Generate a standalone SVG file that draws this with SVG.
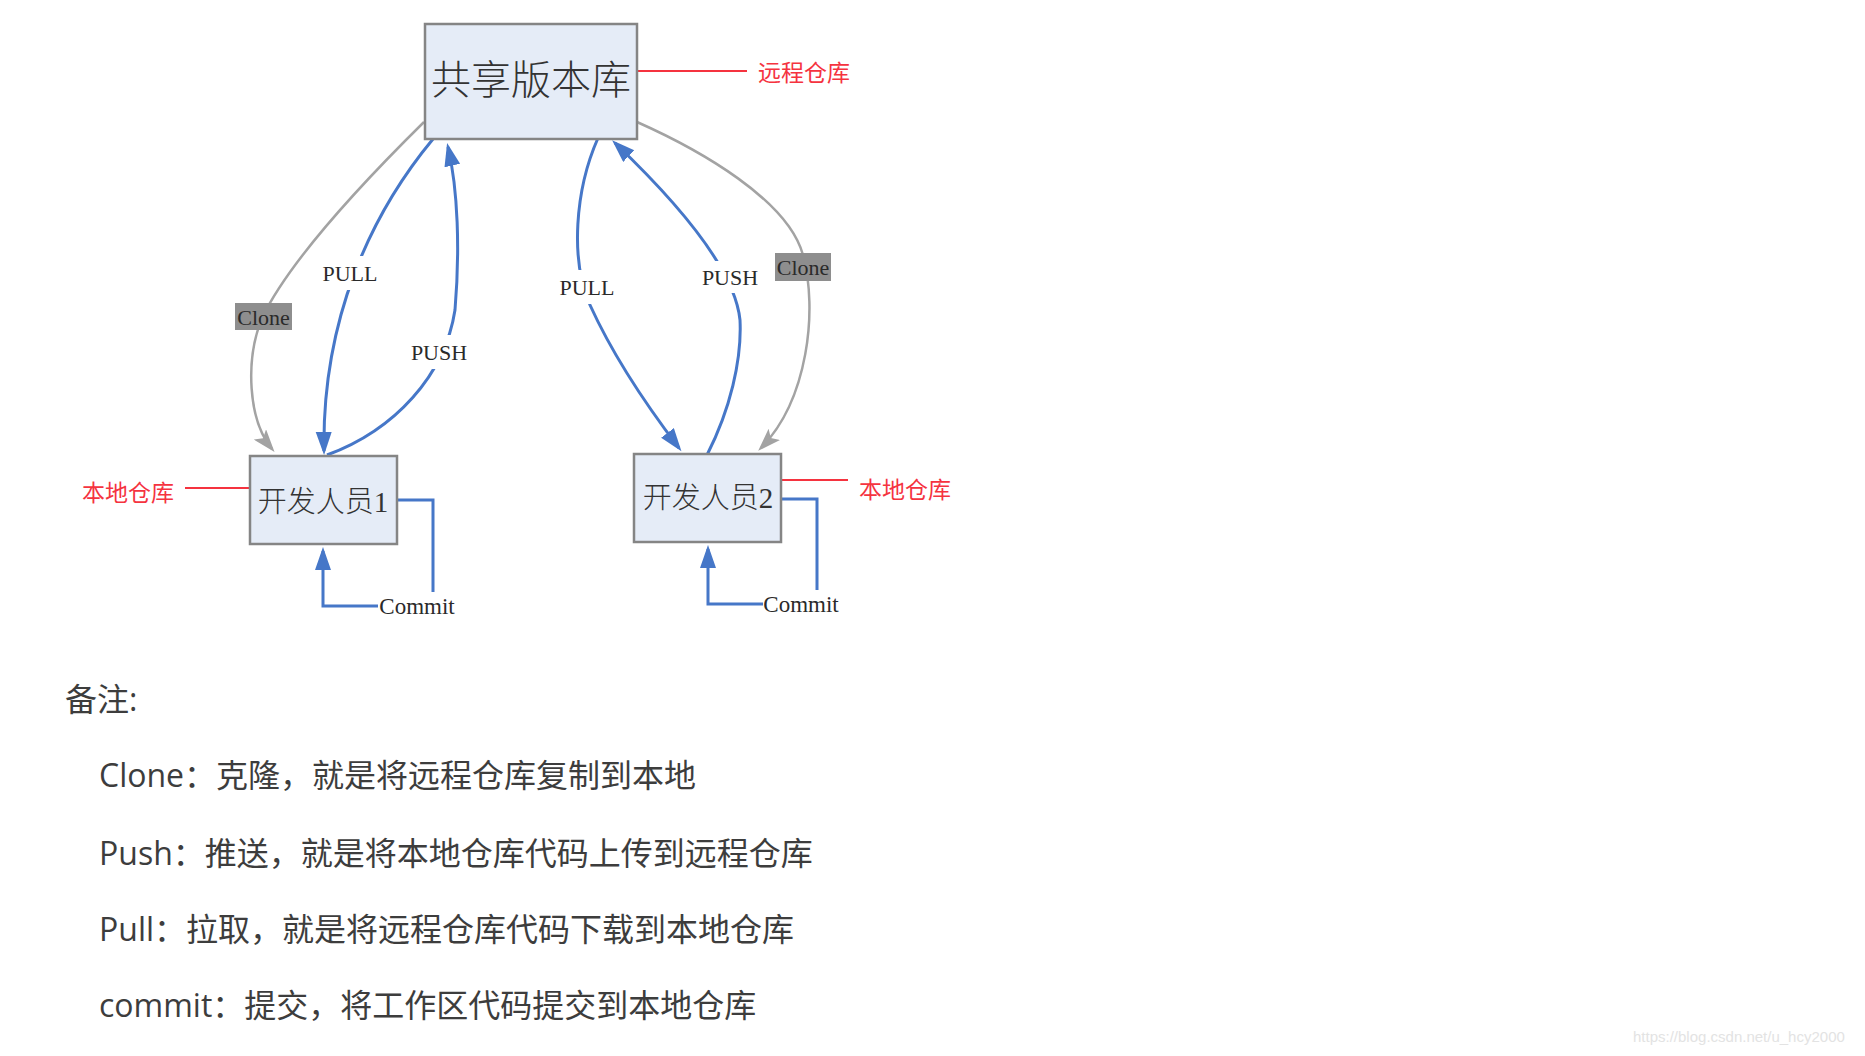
<svg xmlns="http://www.w3.org/2000/svg" width="1865" height="1056" viewBox="0 0 1865 1056">
<style>
.box{fill:#e5ecf7;stroke:#858585;stroke-width:2.5}
.btxt{font-family:"Liberation Serif","Noto Sans CJK SC",serif;font-weight:300;fill:#333333;text-anchor:middle;dominant-baseline:central}
.blue{fill:none;stroke:#4677c8;stroke-width:3}
.gray{fill:none;stroke:#a3a3a3;stroke-width:2.5}
.red{stroke:#f5333f;stroke-width:2}
.rtxt{font-family:"Noto Sans CJK SC",sans-serif;font-size:23px;fill:#f5333f;dominant-baseline:central}
.lbl{font-family:"Liberation Serif",serif;font-size:22px;fill:#2a2a2a;text-anchor:middle;dominant-baseline:central}
.note{font-family:"Open Sans","Noto Sans CJK SC",sans-serif;font-size:32px;fill:#3d3d3d}
</style>
<defs>
<marker id="ab" markerUnits="userSpaceOnUse" markerWidth="26" markerHeight="18" refX="19" refY="8" orient="auto"><path d="M0,0 L23,8 L0,16 z" fill="#4677c8"/></marker>
<marker id="ag" markerUnits="userSpaceOnUse" markerWidth="26" markerHeight="18" refX="19" refY="8" orient="auto"><path d="M0,0 L23,8 L0,16 L5,8 z" fill="#a3a3a3"/></marker>
</defs>
<rect width="1865" height="1056" fill="#ffffff"/>
<g id="connectors">
<path class="gray" d="M424 122 C345 200 285 270 262 318 C245 360 248 420 272 449" marker-end="url(#ag)"/>
<path class="gray" d="M637 122 C700 150 788 200 803 255 C818 310 808 400 761 448" marker-end="url(#ag)"/>
<path class="blue" d="M433 139 C370 215 322 320 324 451" marker-end="url(#ab)"/>
<path class="blue" d="M327 455 C395 430 445 375 455 310 C460 250 458 190 448 147" marker-end="url(#ab)"/>
<path class="blue" d="M598 138 C575 190 570 260 590 305 C615 360 650 410 679 448" marker-end="url(#ab)"/>
<path class="blue" d="M707 455 C730 410 742 360 740 320 C735 270 680 205 615 143" marker-end="url(#ab)"/>
<path class="blue" d="M397 500 H433 V592"/>
<path class="blue" d="M378 606 H323 V551" marker-end="url(#ab)"/>
<path class="blue" d="M781 499 H817 V590"/>
<path class="blue" d="M763 604 H708 V549" marker-end="url(#ab)"/>
<rect x="235" y="303" width="57" height="27" fill="#8e8e8e"/>
<text class="lbl" x="263.5" y="317">Clone</text>
<rect x="775" y="253" width="56" height="28" fill="#8e8e8e"/>
<text class="lbl" x="803" y="267">Clone</text>
<rect x="320" y="256" width="60" height="34" fill="#ffffff"/>
<text class="lbl" x="350" y="273">PULL</text>
<rect x="408" y="335" width="62" height="34" fill="#ffffff"/>
<text class="lbl" x="439" y="352">PUSH</text>
<rect x="556" y="270" width="62" height="34" fill="#ffffff"/>
<text class="lbl" x="587" y="287">PULL</text>
<rect x="699" y="261" width="62" height="32" fill="#ffffff"/>
<text class="lbl" x="730" y="277">PUSH</text>
<text class="lbl" x="417" y="606" style="font-size:23px">Commit</text>
<text class="lbl" x="801" y="604" style="font-size:23px">Commit</text>
<line class="red" x1="637" y1="71" x2="747" y2="71"/>
<line class="red" x1="185" y1="488" x2="252" y2="488"/>
<line class="red" x1="781" y1="480" x2="848" y2="480"/>
</g>
<g id="remote">
<rect class="box" x="425" y="24" width="212" height="115"/>
<text class="btxt" x="531" y="80" style="font-size:40px">共享版本库</text>
<text class="rtxt" x="758" y="71">远程仓库</text>
</g>
<g id="dev1">
<rect class="box" x="250" y="456" width="147" height="88"/>
<text class="btxt" x="323" y="502" style="font-size:29px">开发人员1</text>
<text class="rtxt" x="82" y="491">本地仓库</text>
</g>
<g id="dev2">
<rect class="box" x="634" y="454" width="147" height="88"/>
<text class="btxt" x="708" y="498" style="font-size:29px">开发人员2</text>
<text class="rtxt" x="859" y="488">本地仓库</text>
</g>
<g id="notes">
<text class="note" x="65" y="711">备注:</text>
<text class="note" x="99" y="787">Clone：克隆，就是将远程仓库复制到本地</text>
<text class="note" x="99" y="865">Push：推送，就是将本地仓库代码上传到远程仓库</text>
<text class="note" x="99" y="941">Pull：拉取，就是将远程仓库代码下载到本地仓库</text>
<text class="note" x="99" y="1017">commit：提交，将工作区代码提交到本地仓库</text>
</g>
<text x="1633" y="1042" font-family="Liberation Sans, sans-serif" font-size="15" fill="#e3e3e3">https://blog.csdn.net/u_hcy2000</text>
</svg>
